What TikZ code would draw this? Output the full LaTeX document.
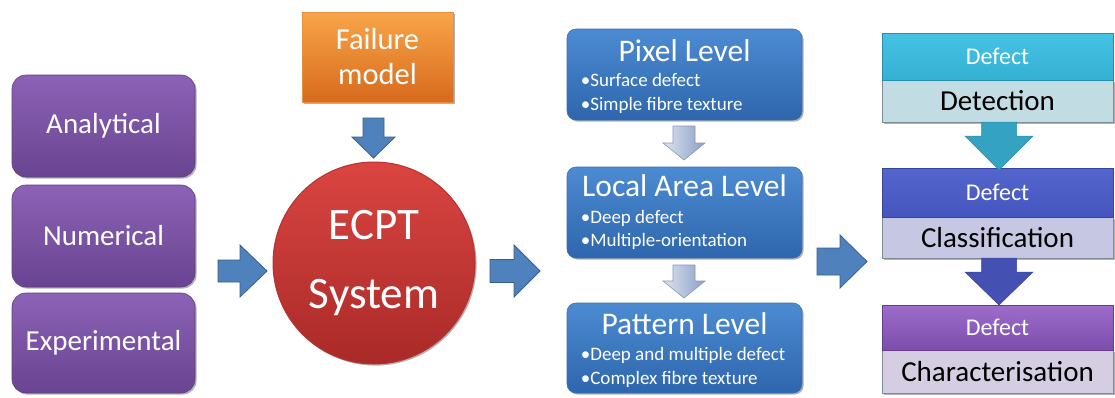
\documentclass[tikz,border=0pt]{standalone}
\usepackage{fontspec}
\setmainfont{Carlito}
\usetikzlibrary{shadows}

\definecolor{vioTop}{HTML}{8C62B6}
\definecolor{vioBot}{HTML}{694491}
\definecolor{vioEdge}{HTML}{5E3F84}
\definecolor{orTop}{HTML}{F8A548}
\definecolor{orBot}{HTML}{D86A1D}
\definecolor{orEdge}{HTML}{E39040}
\definecolor{redTop}{HTML}{DA4541}
\definecolor{redBot}{HTML}{A92A28}
\definecolor{redEdge}{HTML}{B8312F}
\definecolor{bluTop}{HTML}{4C8BD2}
\definecolor{bluBot}{HTML}{2E66AC}
\definecolor{bluEdge}{HTML}{3A70B3}
\definecolor{arrBlue}{HTML}{4F81BD}
\definecolor{arrEdge}{HTML}{385F8F}
\definecolor{greyL}{HTML}{DCE4F1}
\definecolor{greyR}{HTML}{8C9FC5}
\definecolor{greyEdge}{HTML}{8796B6}
\definecolor{cyTop}{HTML}{46C3E3}
\definecolor{cyBot}{HTML}{34B0D4}
\definecolor{cyBody}{HTML}{C2DCE3}
\definecolor{cyArrow}{HTML}{33A3C1}
\definecolor{cyArrowEdge}{HTML}{2B8BA5}
\definecolor{inTop}{HTML}{5466CD}
\definecolor{inBot}{HTML}{4555BE}
\definecolor{inBody}{HTML}{C6C8E3}
\definecolor{inArrow}{HTML}{4451B3}
\definecolor{inArrowEdge}{HTML}{38449A}
\definecolor{puTop}{HTML}{9D6DCB}
\definecolor{puBot}{HTML}{7D4DAC}
\definecolor{puBody}{HTML}{D5CDE1}
\definecolor{bodyEdge}{HTML}{7F8C93}

\tikzset{
  soft shadow/.style={drop shadow={shadow xshift=1.6pt, shadow yshift=-1.6pt, opacity=0.3, fill=black}},
  srcbox/.style={rectangle, rounded corners=14pt, minimum width=183pt, minimum height=#1,
    top color=vioTop, bottom color=vioBot, draw=vioEdge, line width=0.6pt, soft shadow,
    text=white, font=\fontsize{29}{34}\selectfont},
  failbox/.style={rectangle, minimum width=151pt, minimum height=90pt,
    top color=orTop, bottom color=orBot, draw=orEdge, line width=0.6pt, soft shadow,
    text=white, align=center, font=\fontsize{30.5}{35}\selectfont},
  corecircle/.style={circle, minimum size=202pt, inner sep=0pt,
    top color=redTop, bottom color=redBot, draw=redEdge, line width=1pt, soft shadow,
    text=white, align=center, font=\fontsize{45}{69}\selectfont},
  levelbox/.style={rectangle, rounded corners=9pt, minimum width=235pt, minimum height=#1,
    top color=bluTop, bottom color=bluBot, draw=bluEdge, line width=0.6pt, soft shadow},
  leveltitle/.style={anchor=base, text=white, inner sep=0pt, font=\fontsize{31.5}{36}\selectfont},
  levelitem/.style={anchor=base west, text=white, inner sep=0pt, font=\fontsize{19}{22}\selectfont},
  headbox/.style n args={2}{rectangle, minimum width=231pt, minimum height=#1,
    top color=#2Top, bottom color=#2Bot, draw=#2Bot!80!black, line width=0.5pt,
    text=white, font=\fontsize{24}{28}\selectfont},
  bodybox/.style n args={2}{rectangle, minimum width=231pt, minimum height=#1,
    fill=#2, draw=bodyEdge, line width=0.5pt, soft shadow,
    text=black, font=\fontsize{29}{34}\selectfont},
  flowarrow/.style={fill=arrBlue, draw=arrEdge, line width=0.8pt},
  steparrow/.style={left color=greyL, right color=greyR, draw=greyEdge, line width=0.6pt},
  % block arrow pointing right: length, shaft width, head width, head length
  pics/rarrow/.style n args={4}{code={
    \path[pic actions] (-#1/2,-#2/2) -- (#1/2-#4,-#2/2) -- (#1/2-#4,-#3/2) -- (#1/2,0)
      -- (#1/2-#4,#3/2) -- (#1/2-#4,#2/2) -- (-#1/2,#2/2) -- cycle;}},
  % block arrow pointing down (y grows downwards here)
  pics/darrow/.style n args={4}{code={
    \path[pic actions] (-#2/2,-#1/2) -- (-#2/2,#1/2-#4) -- (-#3/2,#1/2-#4) -- (0,#1/2)
      -- (#3/2,#1/2-#4) -- (#2/2,#1/2-#4) -- (#2/2,-#1/2) -- cycle;}},
}

\begin{document}
\begin{tikzpicture}[x=1pt, y=-1pt]
  \useasboundingbox[fill=white] (0,0) rectangle (1115,397);

  % sources of knowledge
  \node[srcbox=102pt] (ana) at (103.5,126) {Analytical};
  \node[srcbox=102pt] (num) at (103.5,236) {Numerical};
  \node[srcbox=100pt] (exp) at (103.5,343) {Experimental};

  % failure model and the ECPT system
  \node[failbox] (fail) at (377.5,57) {Failure\\model};
  \node[corecircle] (ecpt) at (374,263) {ECPT\\System};

  \pic[flowarrow] (inarrow) at (242.5,271) {rarrow={49}{22}{52}{27}};
  \pic[flowarrow] (failarrow) at (373.5,138) {darrow={40}{21}{43}{21}};
  \pic[flowarrow] (outarrow) at (515,271) {rarrow={50}{23}{52}{26}};

  % analysis levels
  \node[levelbox=91pt] (pix) at (684.5,74.5) {};
  \node[levelbox=91pt] (loc) at (684.5,212.5) {};
  \node[levelbox=90pt] (pat) at (684.5,348) {};

  \node[leveltitle] (pixT) at ([yshift=-33pt]pix.north) {Pixel Level};
  \node[levelitem] (pixA) at ([xshift=14pt,yshift=-58pt]pix.north west) {•Surface defect};
  \node[levelitem] (pixB) at ([xshift=14pt,yshift=-82pt]pix.north west) {•Simple fibre texture};

  \node[leveltitle] (locT) at ([yshift=-30pt]loc.north) {Local Area Level};
  \node[levelitem] (locA) at ([xshift=14pt,yshift=-57pt]loc.north west) {•Deep defect};
  \node[levelitem] (locB) at ([xshift=14pt,yshift=-80pt]loc.north west) {•Multiple-orientation};

  \node[leveltitle] (patT) at ([yshift=-32pt]pat.north) {Pattern Level};
  \node[levelitem] (patA) at ([xshift=14pt,yshift=-58pt]pat.north west) {•Deep and multiple defect};
  \node[levelitem] (patB) at ([xshift=14pt,yshift=-82pt]pat.north west) {•Complex fibre texture};

  \pic[steparrow] (step1) at (684,143) {darrow={34}{22}{42}{17}};
  \pic[steparrow] (step2) at (684,281.5) {darrow={33}{22}{42}{17}};

  \pic[flowarrow] (resarrow) at (842,261.5) {rarrow={50}{27}{53}{27}};

  % defect handling stages
  \node[bodybox={42pt}{cyBody}] (detB) at (997.5,101) {Detection};
  \node[headbox={47pt}{cy}] (detH) at (997.5,56.5) {Defect};

  \node[bodybox={41pt}{inBody}] (claB) at (997.5,237.5) {Classification};
  \node[headbox={49pt}{in}] (claH) at (997.5,192.5) {Defect};

  \node[bodybox={43pt}{puBody}] (chaB) at (997.5,371.5) {Characterisation};
  \node[headbox={45pt}{pu}] (chaH) at (997.5,327.5) {Defect};

  \pic[fill=cyArrow, draw=cyArrowEdge, line width=0.5pt] (stage1) at (999,146) {darrow={48}{35}{68}{34}};
  \pic[fill=inArrow, draw=inArrowEdge, line width=0.5pt] (stage2) at (999,281.5) {darrow={47}{35}{68}{33}};
\end{tikzpicture}
\end{document}
